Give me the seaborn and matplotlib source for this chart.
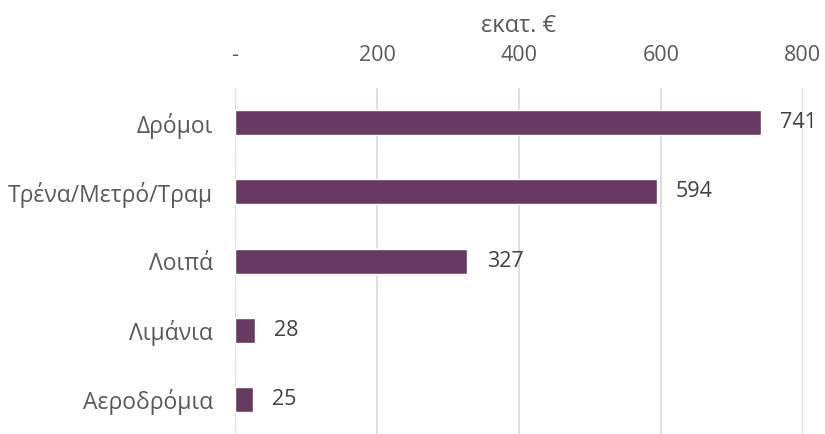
""" Horizontal bar chart of investment by category (εκατ. €) """

import pandas as pd
import seaborn as sns
import matplotlib.pyplot as plt

# Data
categories = ["Δρόμοι", "Τρένα/Μετρό/Τραμ", "Λοιπά", "Λιμάνια", "Αεροδρόμια"]
values = [741, 594, 327, 28, 25]
tick_values = [0, 200, 400, 600, 800]
tick_labels = ["-", "200", "400", "600", "800"]

TEXT = "#595959"
BAR = "#673A64"

sns.set_style("white")
plt.rcParams["font.family"] = ["Open Sans", "DejaVu Sans"]

df = pd.DataFrame({"Category": categories, "Value": values})

fig = plt.figure(figsize=(8.25, 4.34), dpi=100)
ax = fig.add_axes([0.285, 0.0, 0.688, 0.797])

sns.barplot(data=df, y="Category", x="Value", color=BAR, width=0.36,
            saturation=1, orient="h", ax=ax, zorder=3)

# Value labels to the right of the bars
for i, v in enumerate(values):
    ax.annotate(f"{v}", xy=(v, i), xytext=(14, 0), textcoords="offset points",
                va="center", ha="left", fontsize=15.5, color="#404040")

# Axes on top, gridlines only
ax.set_xlim(0, 800)
ax.set_ylim(4.5, -0.5)
ax.xaxis.tick_top()
ax.xaxis.set_label_position("top")
ax.set_xticks(tick_values)
ax.set_xticklabels(tick_labels)
ax.set_xlabel("εκατ. €", fontsize=17, color=TEXT, labelpad=9)
ax.set_ylabel("")
ax.tick_params(axis="x", length=0, labelsize=15.5, labelcolor=TEXT, pad=16)
ax.tick_params(axis="y", length=0, labelsize=16.5, labelcolor=TEXT, pad=16)
ax.grid(axis="x", color="#D9D9D9", linewidth=1.2, zorder=0)
for s in ax.spines.values():
    s.set_visible(False)

plt.savefig("out.png", dpi=100)
